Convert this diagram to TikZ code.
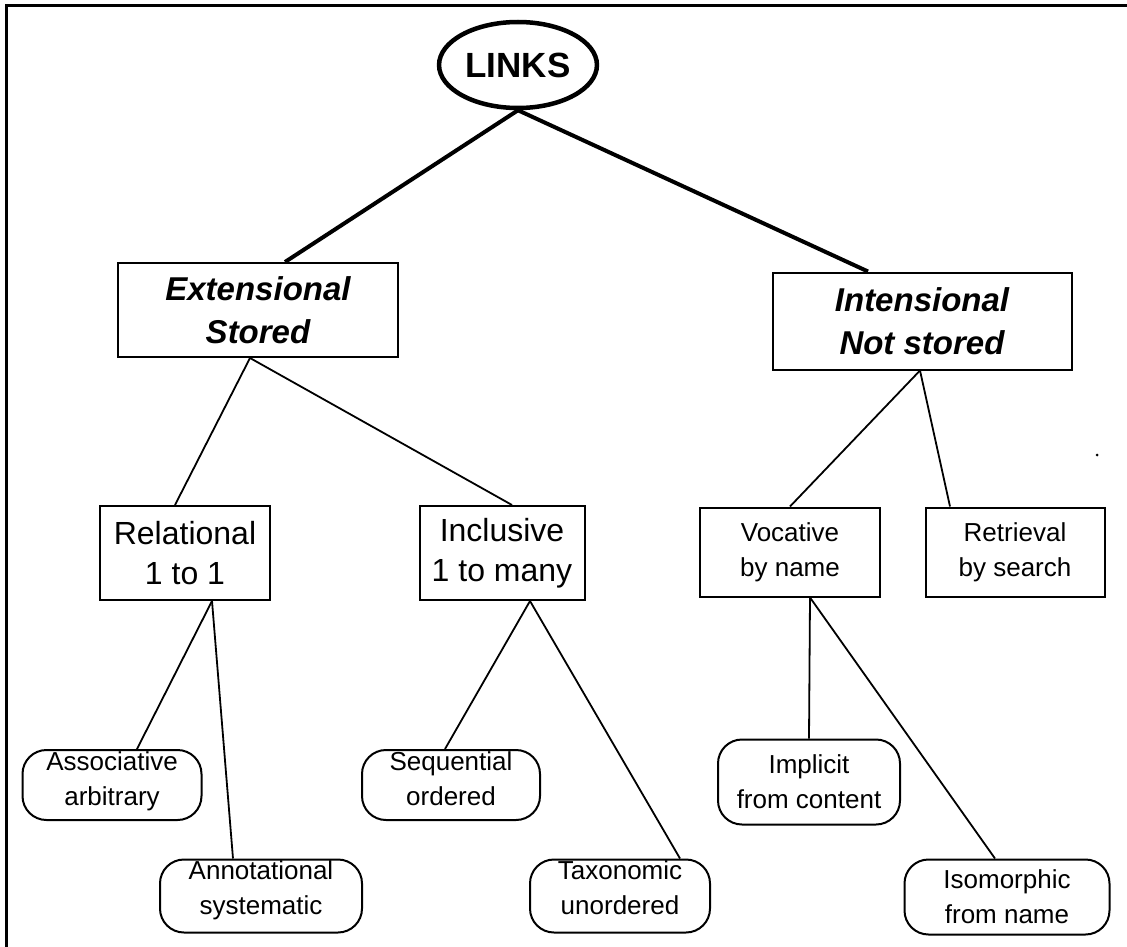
\documentclass[tikz,border=0pt]{standalone}
\usepackage{fontspec}
\setmainfont{Liberation Sans}
\usetikzlibrary{shapes.geometric}
\begin{document}
\begin{tikzpicture}[x=1pt,y=-1pt,
  thick link/.style={line width=4pt},
  thin link/.style={line width=1.8pt},
  topbox/.style={draw, line width=2pt, rectangle, align=center, font=\fontsize{33}{43}\selectfont\bfseries\itshape, inner sep=0pt},
  midbox/.style={draw, line width=2pt, rectangle, align=center, font=\fontsize{32}{40}\selectfont, inner sep=0pt},
  smallbox/.style={draw, line width=2pt, rectangle, align=center, font=\fontsize{26}{35}\selectfont, inner sep=0pt},
  leaf/.style={draw, line width=2pt, rectangle, rounded corners=24pt, inner sep=0pt},
  leaftext/.style={anchor=north, align=center, font=\fontsize{26}{35}\selectfont, inner sep=0pt}
]
\useasboundingbox (0,0) rectangle (1127,947);
\draw[line width=3pt] (6,947) -- (6,6) -- (1127,6);

\node[draw, ellipse, line width=4.5pt, minimum width=150, minimum height=86, font=\fontsize{35}{40}\selectfont\bfseries] (links) at (518,65) {LINKS};

\node[topbox, minimum width=280, minimum height=94] (ext) at (258,310) {Extensional\\Stored};
\node[topbox, minimum width=299, minimum height=97] (int) at (922,321) {Intensional\\Not stored};

\node[midbox, minimum width=170, minimum height=94] (rel) at (185,553) {Relational\\1 to 1};
\node[midbox, minimum width=165, minimum height=94] (incl) at (502,553) {Inclusive\\1 to many};
\node[smallbox, minimum width=180, minimum height=89] (voc) at (790,552) {Vocative\\by name};
\node[smallbox, minimum width=179, minimum height=89] (ret) at (1015,552) {Retrieval\\by search};

\node[leaf, minimum width=179, minimum height=70] (assoc) at (112,785) {};
\node[leaftext] (assocT) at ([yshift=-2]assoc.north) {Associative\\arbitrary};
\node[leaf, minimum width=202, minimum height=73] (annot) at (261,896) {};
\node[leaftext] (annotT) at ([yshift=-2]annot.north) {Annotational\\systematic};
\node[leaf, minimum width=178, minimum height=70] (seq) at (451,785) {};
\node[leaftext] (seqT) at ([yshift=-2]seq.north) {Sequential\\ordered};
\node[leaf, minimum width=180, minimum height=73] (tax) at (620,896) {};
\node[leaftext] (taxT) at ([yshift=-2]tax.north) {Taxonomic\\unordered};
\node[leaf, minimum width=182, minimum height=85] (impl) at (809,782) {};
\node[leaftext, anchor=center] (implT) at (impl.center) {Implicit\\from content};
\node[leaf, minimum width=205, minimum height=75] (iso) at (1007,897) {};
\node[leaftext, anchor=center] (isoT) at (iso.center) {Isomorphic\\from name};

\fill (1097,455) circle (1.5);

\draw[thick link] (links.south) -- ([xshift=27]ext.north);
\draw[thick link] (links.south) -- ([xshift=-54]int.north);
\draw[thin link] ([xshift=-8]ext.south) -- ([xshift=-10]rel.north);
\draw[thin link] ([xshift=-8]ext.south) -- ([xshift=10]incl.north);
\draw[thin link] ([xshift=-2]int.south) -- (voc.north);
\draw[thin link] ([xshift=-2]int.south) -- ([xshift=-65]ret.north);
\draw[thin link] ([xshift=27]rel.south) -- ([xshift=25]assoc.north);
\draw[thin link] ([xshift=27]rel.south) -- ([xshift=-28]annot.north);
\draw[thin link] ([xshift=28]incl.south) -- ([xshift=-6]seq.north);
\draw[thin link] ([xshift=28]incl.south) -- ([xshift=60]tax.north);
\draw[thin link] ([xshift=20]voc.south) -- (impl.north);
\draw[thin link] ([xshift=20]voc.south) -- ([xshift=-12]iso.north);
\end{tikzpicture}
\end{document}
